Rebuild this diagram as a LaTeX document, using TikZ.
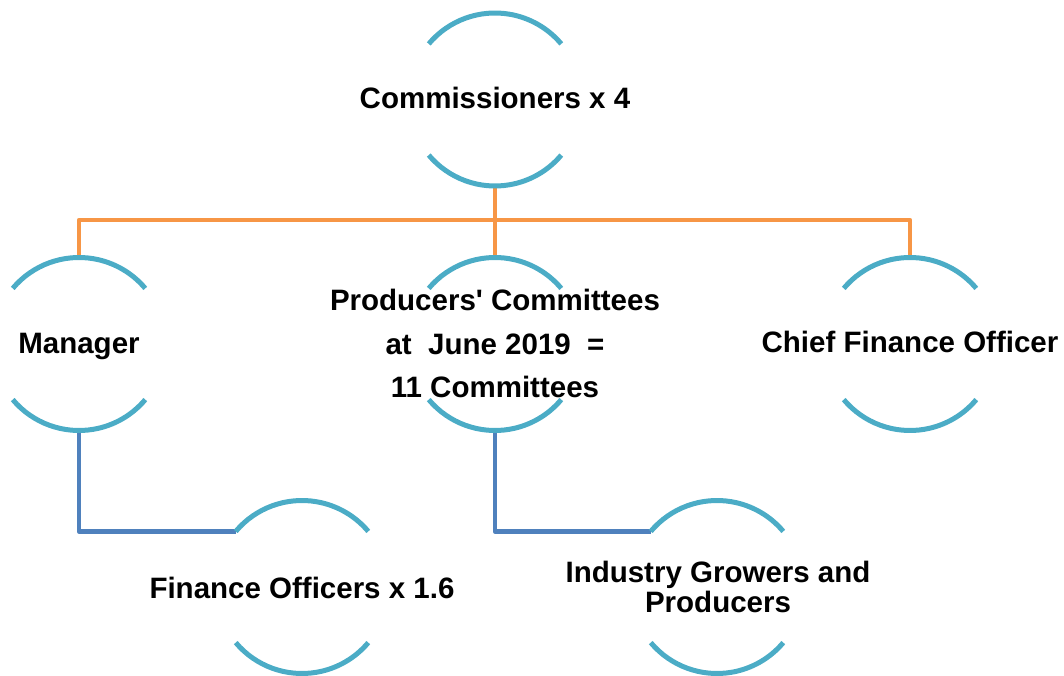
\documentclass[tikz,border=0pt]{standalone}
\usepackage{fontspec}
\setmainfont{Liberation Sans}
\definecolor{arcteal}{HTML}{4BACC6}
\definecolor{linkorange}{HTML}{F79646}
\definecolor{linkblue}{HTML}{4F81BD}
\tikzset{
  ring/.style={circle, draw=none, minimum size=173pt, inner sep=0pt, outer sep=0pt},
  arcline/.style={draw=arcteal, line width=5pt},
  lbl/.style={font=\fontsize{29.5}{43}\selectfont\bfseries, align=center, inner sep=0pt, anchor=base},
  orangelink/.style={draw=linkorange, line width=4.5pt, line join=round},
  bluelink/.style={draw=linkblue, line width=4.5pt, line join=round},
}
\newcommand{\ringarcs}[1]{%
  \draw[arcline] (#1.140) arc[start angle=140, end angle=40, radius=86.5pt];
  \draw[arcline] (#1.220) arc[start angle=220, end angle=320, radius=86.5pt];
}
\begin{document}
\begin{tikzpicture}[x=1pt,y=1pt]
\useasboundingbox (0,0) rectangle (1064,675);
% rings
\node[ring] (comm) at (495,575.5) {};
\node[ring] (man)  at (79,331) {};
\node[ring] (prod) at (495,331) {};
\node[ring] (cfo)  at (910,331) {};
\node[ring] (fin)  at (302,88) {};
\node[ring] (ind)  at (717,88) {};
\coordinate (bus) at (495,455);
% connectors
\draw[orangelink] (comm.south) -- (prod.north);
\draw[orangelink] (man.north) |- (bus) -| (cfo.north);
\draw[bluelink] (man.south) |- (fin.140);
\draw[bluelink] (prod.south) |- (ind.140);
% arcs
\ringarcs{comm}
\ringarcs{man}
\ringarcs{prod}
\ringarcs{cfo}
\ringarcs{fin}
\ringarcs{ind}
% labels
\node[lbl] (tcomm) at (495,566) {Commissioners x 4};
\node[lbl] (tman) at (79,321) {Manager};
\node[lbl] (tprod) at (495,278) {Producers\textquotesingle{} Committees\\at\ \ June 2019\ \ =\\11 Committees};
\node[lbl] (tcfo) at (910,322) {Chief Finance Officer};
\node[lbl] (tfin) at (302,77) {Finance Officers x 1.6};
\node[lbl, font=\fontsize{29.5}{30}\selectfont\bfseries] (tind) at (718,63) {Industry Growers and\\Producers};
\end{tikzpicture}
\end{document}
